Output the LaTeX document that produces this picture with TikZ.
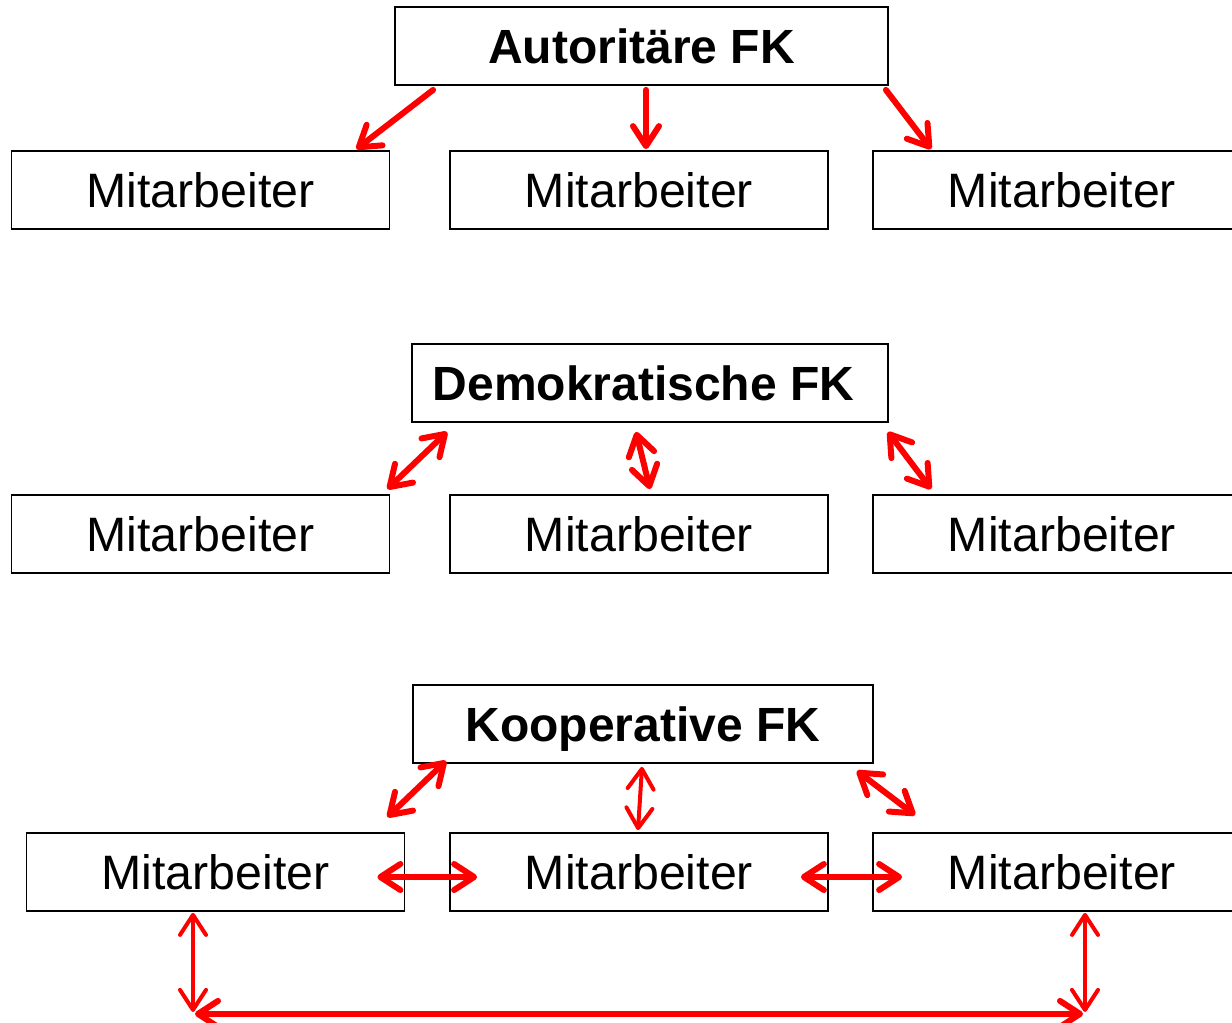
\documentclass[tikz,border=0pt]{standalone}
\usepackage{fontspec}
\setmainfont{Liberation Sans}
\usetikzlibrary{arrows.meta,calc}
\begin{document}
\begin{tikzpicture}[x=1pt,y=-1pt,
  box/.style={draw,line width=1.8pt,minimum height=78pt,minimum width=378pt,inner sep=0pt,
    text height=34pt,text depth=0pt,font=\fontsize{48.3}{50}\selectfont},
  head/.style={box,font=\fontsize{48}{50}\selectfont\bfseries},
  tip/.tip={Straight Barb[length=20pt,width=26pt,round]},
  arr/.style={red,line width=6pt,line cap=round,-tip},
  darr/.style={red,line width=6pt,line cap=round,tip-tip},
  thin/.style={line width=4pt}]
\path[use as bounding box,clip] (0,0) rectangle (1232,1023);
\fill[white] (0,0) rectangle (1232,1023);
% Autoritaere
\node[head,minimum width=493pt] (af) at (641.5,46) {Autoritäre FK};
\node[box] (m11) at (200.5,190) {Mitarbeiter};
\node[box] (m12) at (639,190) {Mitarbeiter};
\node[box] (m13) at (1062,190) {Mitarbeiter};
\draw[arr] ($(af.south west)+(39,4)$) -- ($(m11.north east)+(-34,-1)$);
\draw[arr] ($(af.south)+(4.5,4)$) -- ($(m12.north)+(7,-1)$);
\draw[arr] ($(af.south east)+(-3,4)$) -- ($(m13.north west)+(59,-1)$);
% Demokratische
\node[head,minimum width=476pt] (df) at (650,383) {\hspace*{-13pt}Demokratische FK};
\node[box] (m21) at (200.5,534) {Mitarbeiter};
\node[box] (m22) at (639,534) {Mitarbeiter};
\node[box] (m23) at (1062,534) {Mitarbeiter};
\draw[darr] ($(df.south west)+(36,9)$) -- ($(m21.north east)+(-3,-5)$);
\draw[darr] ($(df.south)+(-14,9)$) -- ($(m22.north)+(11,-5)$);
\draw[darr] ($(df.south east)+(-1,9)$) -- ($(m23.north west)+(59,-5)$);
% Kooperative
\node[head,minimum width=460pt] (kf) at (643,724) {Kooperative FK};
\node[box] (m31) at (215.5,872) {Mitarbeiter};
\node[box] (m32) at (639,872) {Mitarbeiter};
\node[box] (m33) at (1062,872) {Mitarbeiter};
\draw[darr] ($(kf.south west)+(34,-3)$) -- ($(m31.north east)+(-18,-15)$);
\draw[darr,thin] ($(kf.south)+(-1,3)$) -- ($(m32.north)+(-1,-2)$);
\draw[darr] ($(kf.south east)+(-17,7)$) -- ($(m33.north west)+(43,-17)$);
\draw[darr] ($(m31.east)+(-28,5)$) -- ($(m32.west)+(28,5)$);
\draw[darr] ($(m32.east)+(-28,5)$) -- ($(m33.west)+(30,5)$);
\coordinate (bl) at ($(m31.south)+(-22.5,101)$);
\coordinate (br) at ($(m33.south)+(23,101)$);
\draw[darr,thin] ($(m31.south)+(-22.5,1)$) -- ($(bl)+(0,-1)$);
\draw[darr,thin] ($(m33.south)+(23,1)$) -- ($(br)+(0,-1)$);
\draw[darr] ($(bl)+(2,1)$) -- ($(br)+(-2,1)$);
\end{tikzpicture}
\end{document}
